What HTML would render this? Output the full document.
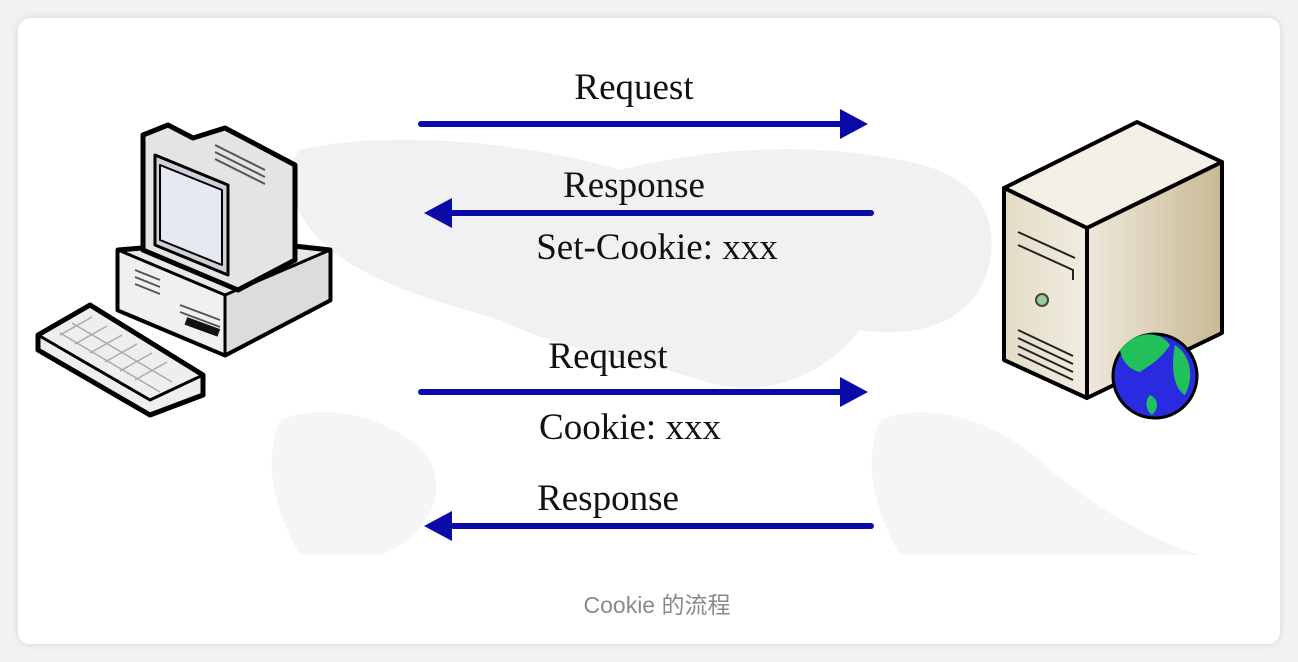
<!DOCTYPE html>
<html><head><meta charset="utf-8"><style>
html,body{margin:0;padding:0;background:#f2f2f2;}
body{width:1298px;height:662px;position:relative;overflow:hidden;}
.card{position:absolute;left:18px;top:18px;width:1262px;height:626px;background:#fff;border-radius:12px;box-shadow:0 0 8px rgba(0,0,0,0.12);}
svg{position:absolute;left:0;top:0;}
.cap{position:absolute;left:8px;width:1298px;top:586px;text-align:center;font:23px "Liberation Sans","Noto Sans CJK SC",sans-serif;color:#8a8a8a;}
</style></head><body>
<div class="card"></div>
<svg width="1298" height="662" viewBox="0 0 1298 662">
<defs>
<linearGradient id="sv" x1="0" x2="1"><stop offset="0" stop-color="#efe9dc"/><stop offset="1" stop-color="#c8b993"/></linearGradient>
<linearGradient id="sf" x1="0" x2="1"><stop offset="0" stop-color="#e4dcc6"/><stop offset="1" stop-color="#f1ece0"/></linearGradient>
</defs>
<g fill="#f1f1f3">
<path d="M300 150 C380 130 520 140 620 170 C700 150 800 140 900 160 C960 170 1000 200 990 260 C980 320 920 340 860 330 C820 380 760 400 700 380 C640 360 560 350 500 320 C430 300 360 280 320 240 C290 210 280 170 300 150Z"/>
<path d="M280 420 C330 400 400 420 430 460 C450 500 420 540 380 555 L300 555 C280 520 260 470 280 420Z" opacity="0.7"/>
<path d="M880 420 C930 400 1000 420 1050 470 C1100 510 1150 540 1200 555 L900 555 C880 520 860 470 880 420Z" opacity="0.7"/>
</g>
<g stroke="#000" stroke-width="5" stroke-linejoin="round">
<path d="M118 250 L240 240 L330 250 L330 300 L225 355 L118 310Z" fill="#e8e8e8"/>
<path d="M118 250 L225 295 L225 355 L118 310Z" fill="#f0f0f0" stroke-width="3"/>
<path d="M225 295 L330 250 L330 300 L225 355Z" fill="#dcdcdc" stroke-width="3"/>
<path d="M143 135 L168 125 L193 138 L225 128 L295 165 L295 260 L238 290 L143 250Z" fill="#e4e4e4"/>
<path d="M155 155 L228 185 L228 275 L155 245Z" fill="#d0d0d8" stroke-width="3"/>
<path d="M160 165 L222 190 L222 265 L160 240Z" fill="#e6e9f2" stroke-width="2"/>
<path d="M38 335 L90 305 L203 375 L203 395 L150 415 L38 350Z" fill="#eee"/>
<path d="M38 335 L150 400 L203 375" fill="none" stroke-width="3"/>
</g>
<g stroke="#aaa" stroke-width="1.5" fill="none">
<path d="M60 335 L92 317 M75 344 L107 326 M90 353 L122 335 M105 362 L137 344 M120 371 L152 353 M135 380 L167 362"/>
<path d="M72 323 L172 382 M60 333 L160 392"/>
</g>
<g stroke="#555" stroke-width="2"><line x1="215" y1="145" x2="265" y2="170"/><line x1="215" y1="152" x2="265" y2="177"/><line x1="215" y1="159" x2="265" y2="184"/>
<line x1="180" y1="305" x2="220" y2="320"/><line x1="180" y1="312" x2="220" y2="327"/>
<line x1="135" y1="270" x2="160" y2="280"/><line x1="135" y1="277" x2="160" y2="287"/><line x1="135" y1="284" x2="160" y2="294"/></g>
<rect x="185" y="322" width="35" height="8" fill="#111" transform="rotate(20 200 326)"/>
<g stroke="#000" stroke-width="4" stroke-linejoin="round">
<path d="M1004 188 L1137 122 L1222 162 L1087 228Z" fill="#f4f0e6"/>
<path d="M1087 228 L1222 162 L1222 333 L1087 398Z" fill="url(#sv)"/>
<path d="M1004 188 L1087 228 L1087 398 L1004 360Z" fill="url(#sf)"/>
</g>
<g stroke="#222" stroke-width="2" fill="none"><path d="M1018 232 L1075 258"/><path d="M1018 245 L1073 270 L1073 280"/>
<path d="M1018 330 L1073 356"/><path d="M1018 338 L1073 364"/><path d="M1018 346 L1073 372"/><path d="M1018 354 L1073 380"/></g>
<circle cx="1042" cy="300" r="6" fill="#9c9" stroke="#444" stroke-width="2"/>
<circle cx="1155" cy="376" r="42" fill="#2a2ae0" stroke="#000" stroke-width="3"/>
<path d="M1120 350 C1135 330 1160 330 1170 345 C1160 360 1150 365 1140 372 C1130 370 1122 362 1120 350Z M1175 345 C1190 355 1195 375 1185 395 C1175 390 1170 370 1175 345Z M1150 395 C1160 400 1158 410 1152 415 C1145 410 1145 400 1150 395Z" fill="#22c05a"/>
<g fill="#0a0aa8">
<rect x="418" y="121" width="426" height="6" rx="3"/><path d="M840 109 L868 124 L840 139Z"/>
<rect x="448" y="210" width="426" height="6" rx="3"/><path d="M452 198 L424 213 L452 228Z"/>
<rect x="418" y="389" width="426" height="6" rx="3"/><path d="M840 377 L868 392 L840 407Z"/>
<rect x="448" y="523" width="426" height="6" rx="3"/><path d="M452 511 L424 526 L452 541Z"/>
</g>
<g font-family="Liberation Serif, serif" font-size="37" fill="#111" text-anchor="middle">
<text x="634" y="99">Request</text>
<text x="634" y="197">Response</text>
<text x="657" y="259">Set-Cookie: xxx</text>
<text x="608" y="368">Request</text>
<text x="630" y="439">Cookie: xxx</text>
<text x="608" y="510">Response</text>
</g>
</svg>
<div class="cap">Cookie 的流程</div>
</body></html>
